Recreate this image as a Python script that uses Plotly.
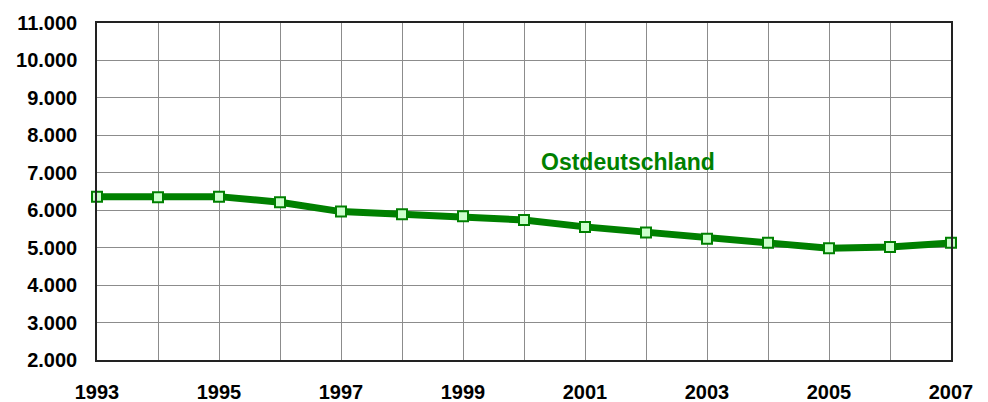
import plotly.graph_objects as go

years = list(range(1993, 2008))
values = [6363, 6347, 6363, 6213, 5963, 5893, 5840, 5741, 5555, 5403, 5235, 5128, 4987, 5021, 5128]
series_name = "Ostdeutschland"

y_tickvals = [2000, 3000, 4000, 5000, 6000, 7000, 8000, 9000, 10000, 11000]
y_ticktext = ["2.000", "3.000", "4.000", "5.000", "6.000", "7.000", "8.000", "9.000", "10.000", "11.000"]
x_tickvals = [1993, 1995, 1997, 1999, 2001, 2003, 2005, 2007]
x_ticktext = ["1993", "1995", "1997", "1999", "2001", "2003", "2005", "2007"]

FONT = "Liberation Sans, Arial, sans-serif"

fig = go.Figure()
fig.add_trace(go.Scatter(
    x=years, y=values, mode="lines+markers", name=series_name,
    line=dict(color="#008000", width=7),
    marker=dict(symbol="square", size=10, color="#ccffcc",
                line=dict(color="#008000", width=2)),
    cliponaxis=False,
))

fig.add_annotation(x=2001.71, y=7290, text="<b>Ostdeutschland</b>", showarrow=False,
                   font=dict(family=FONT, size=23, color="#008000"))

fig.update_layout(
    width=988, height=402,
    margin=dict(l=97, r=37, t=23, b=42),
    paper_bgcolor="white", plot_bgcolor="white",
    showlegend=False,
    font=dict(family=FONT, size=20, color="black"),
)
fig.update_xaxes(
    range=[1993, 2007], tickvals=x_tickvals, ticktext=x_ticktext,
    tickfont=dict(family=FONT, size=20, color="black", weight="bold"),
    showgrid=True, gridcolor="#8c8c8c", gridwidth=1,
    minor=dict(dtick=1, tick0=1993, showgrid=True, gridcolor="#8c8c8c", gridwidth=1),
    showline=True, linecolor="#222", linewidth=1.5, mirror=True,
    zeroline=False, ticks="", ticklabelstandoff=13, automargin=False,
)
fig.update_yaxes(
    range=[2000, 11000], tickvals=y_tickvals, ticktext=y_ticktext,
    tickfont=dict(family=FONT, size=20, color="black", weight="bold"),
    showgrid=True, gridcolor="#8c8c8c", gridwidth=1,
    showline=True, linecolor="#222", linewidth=1.5, mirror=True,
    zeroline=False, ticks="", ticklabelstandoff=14, automargin=False,
)

fig.write_html("out.html", config={"displayModeBar": False},
               post_script="document.body.style.margin='0';")
